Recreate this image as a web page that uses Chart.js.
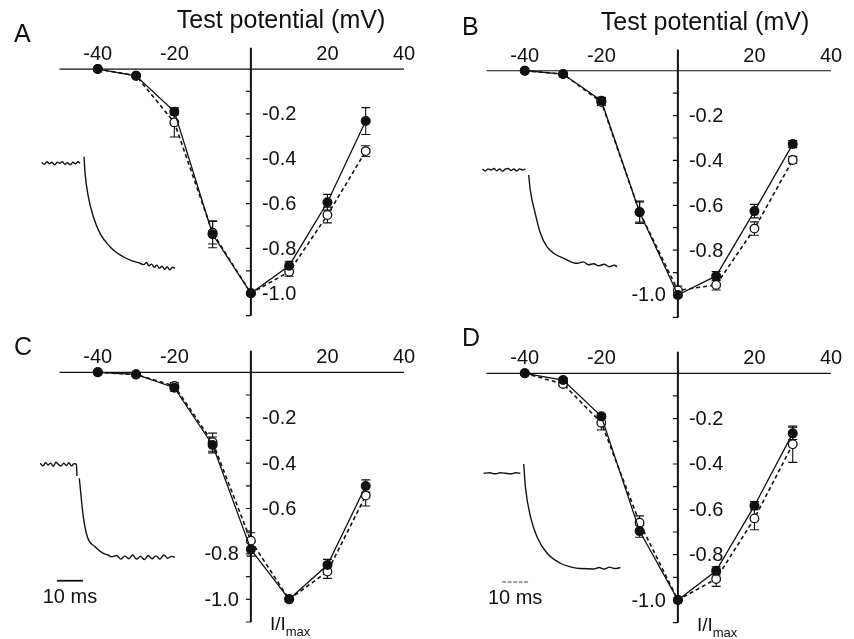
<!DOCTYPE html>
<html>
<head>
<meta charset="utf-8">
<script src="https://cdn.jsdelivr.net/npm/chart.js@4.4.1/dist/chart.umd.min.js"></script>
<style>
html, body { margin: 0; padding: 0; background: #fff; overflow: hidden; }
#fig { position: relative; width: 854px; height: 639px; }
.panel { position: absolute; width: 427px; height: 320px; }
</style>
</head>
<body>
<div id="fig">
  <div class="panel" style="left:0;top:0"><canvas id="panelA" width="427" height="320"></canvas></div>
  <div class="panel" style="left:427px;top:0"><canvas id="panelB" width="427" height="320"></canvas></div>
  <div class="panel" style="left:0;top:320px"><canvas id="panelC" width="427" height="320"></canvas></div>
  <div class="panel" style="left:427px;top:320px"><canvas id="panelD" width="427" height="320"></canvas></div>
</div>
<script>
// test potentials (mV) and axis labels
const voltages = [-40, -30, -20, -10, 0, 10, 20, 30];
const xTickLabels = [-40, -20, 20, 40];
const yTickLabels = [-0.2, -0.4, -0.6, -0.8, -1.0];
const yMinorTicks = [-0.1, -0.2, -0.3, -0.4, -0.5, -0.6, -0.7, -0.8, -0.9, -1.0, -1.1];

// panel A - I/Imax, filled and open symbols, with SEM
const aFilled = [0, -0.03, -0.19, -0.737, -1.0, -0.877, -0.594, -0.232];
const aOpen = [0, -0.03, -0.238, -0.73, -1.0, -0.904, -0.651, -0.366];
const aFilledErr = [0, 0, 0.015, 0.06, 0, 0.02, 0.035, 0.06];
const aOpenErr = [0, 0, 0.065, 0.05, 0, 0.02, 0.035, 0.024];
// inset current trace: time in ms from the pulse, current relative to the plateau
const aTraceT = [-16.3, -15.3, -14.3, -13.3, -12.3, -11.3, -10.3, -9.3, -8.3, -7.3, -6.3, -5.3, -4.3, -3.3, -2.3, -1.5, -0.8,
    0, 0.4, 1.65, 3.6, 6.15, 10, 12.5, 15.1, 18, 21.5, 23, 24, 25, 26, 27, 28, 29, 30, 31, 32, 33, 34, 35];
const aTraceI = [0.01, -0.01, 0.015, -0.005, 0.01, -0.015, 0.01, 0, 0.015, -0.01, 0.005, -0.015, 0.01, -0.005, 0.015, 0, null,
    0.063, -0.092, -0.318, -0.509, -0.667, -0.794, -0.85, -0.89, -0.925, -0.952, -0.965, -0.945, -0.975, -0.96, -0.99, -0.97, -1.0, -0.98, -1.01, -0.985, -1.015, -0.99, -1.0];

// panel B
const bFilled = [0, -0.015, -0.134, -0.631, -1.0, -0.915, -0.626, -0.327];
const bOpen = [0, -0.015, -0.14, -0.63, -0.98, -0.955, -0.704, -0.398];
const bFilledErr = [0, 0, 0.015, 0.05, 0.01, 0.02, 0.03, 0.016];
const bOpenErr = [0, 0, 0.015, 0.045, 0.02, 0.023, 0.03, 0.016];
const bTraceT = [-17.8, -16.7, -15.6, -14.5, -13.4, -12.3, -11.2, -10.1, -9, -7.9, -6.8, -5.7, -4.6, -3.5, -2.4, -1.3, -0.6,
    0, 0.6, 2.5, 4.5, 7.0, 9.6, 13.5, 18.6, 21, 23, 25, 27, 29, 31, 33, 34];
const bTraceI = [0.01, -0.01, 0.012, 0, 0.015, -0.008, 0.01, -0.012, 0.008, 0.015, -0.005, 0.01, -0.01, 0.012, 0, 0.01, null,
    -0.052, -0.207, -0.448, -0.655, -0.793, -0.861, -0.913, -0.965, -0.95, -0.98, -0.97, -0.99, -0.975, -1.0, -0.985, -1.0];

// panel C
const cFilled = [0, -0.009, -0.068, -0.32, -0.78, -1.0, -0.849, -0.501];
const cOpen = [0, -0.01, -0.06, -0.308, -0.742, -1.0, -0.878, -0.543];
const cFilledErr = [0, 0, 0.015, 0.035, 0.03, 0, 0.025, 0.027];
const cOpenErr = [0, 0, 0.015, 0.04, 0.035, 0, 0.03, 0.046];
const cTraceT = [-15, -14, -13, -12, -11, -10, -9, -8, -7, -6, -5, -4, -3, -2, -1.1, -0.9, -0.5,
    0, 1.54, 3.08, 6.04, 9.23, 11, 12.5, 14.4, 16, 17.5, 19, 20.5, 22, 23.5, 25, 26.5, 28, 29.5, 31, 32.5, 34, 35.5, 36.8];
const cTraceI = [0.02, -0.01, 0.025, 0, 0.02, -0.015, 0.03, 0.005, -0.01, 0.02, -0.005, 0.025, -0.01, 0.015, 0.01, -0.12, null,
    -0.144, -0.56, -0.777, -0.885, -0.957, -0.975, -0.995, -0.98, -1.02, -0.985, -1.015, -0.975, -1.02, -0.99, -1.025, -0.98, -1.015, -0.985, -1.02, -0.975, -1.01, -0.99, -1.0];

// panel D
const dFilled = [0, -0.03, -0.19, -0.696, -1.0, -0.871, -0.584, -0.265];
const dOpen = [0, -0.047, -0.218, -0.659, -1.0, -0.907, -0.64, -0.313];
const dFilledErr = [0, 0.01, 0.01, 0.027, 0, 0.018, 0.018, 0.027];
const dOpenErr = [0, 0.01, 0.032, 0.03, 0, 0.033, 0.05, 0.08];
const dTraceT = [-15.4, -13, -11, -9, -7, -5, -3, -1.3, -0.7,
    0, 0.65, 2.6, 5.1, 9.0, 14.1, 19.2, 22, 26.9, 29, 31, 33, 35, 37.2];
const dTraceI = [0, 0.005, -0.005, 0.005, 0, -0.005, 0.005, 0, null,
    0.097, -0.14, -0.453, -0.662, -0.836, -0.94, -0.986, -0.995, -1.0, -0.985, -1.0, -0.98, -0.995, -0.985];

const FONT = "'Liberation Sans', Arial, Helvetica, sans-serif";
const INK = '#111';
const MS_PX = 2.6;          // inset: pixels per ms (10 ms bar = 26 px)
const W = 427, H = 320;     // panel canvas size
const AX_LEFT = 59.5, AX_RIGHT = 404;   // pixel span of -50..40 mV

const panelDefs = [
    { canvas: 'panelA', letter: 'A', letterAt: [14, 42], titleAt: [281, 28],
      filled: aFilled, open: aOpen, filledErr: aFilledErr, openErr: aOpenErr,
      traceT: aTraceT, traceI: aTraceI, top: 46.6, bottom: 315.7,
      inset: { x0: 84, y0: 163.3, unitPx: 105 }, leftLabels: [], imax: false, bar: null },
    { canvas: 'panelB', letter: 'B', letterAt: [35, 35], titleAt: [278, 30],
      filled: bFilled, open: bOpen, filledErr: bFilledErr, openErr: bOpenErr,
      traceT: bTraceT, traceI: bTraceI, top: 48.3, bottom: 317.4,
      inset: { x0: 101.7, y0: 170, unitPx: 96.7 }, leftLabels: [-1.0], imax: false, bar: null },
    { canvas: 'panelC', letter: 'C', letterAt: [14, 35], titleAt: null,
      filled: cFilled, open: cOpen, filledErr: cFilledErr, openErr: cOpenErr,
      traceT: cTraceT, traceI: cTraceI, top: 29.6, bottom: 302,
      inset: { x0: 79.3, y0: 145, unitPx: 92.3 }, leftLabels: [-0.8, -1.0], imax: true,
      bar: { t: -8.6, i: -1.254, dashed: false } },
    { canvas: 'panelD', letter: 'D', letterAt: [35, 26], titleAt: null,
      filled: dFilled, open: dOpen, filledErr: dFilledErr, openErr: dOpenErr,
      traceT: dTraceT, traceI: dTraceI, top: 30.6, bottom: 302.7,
      inset: { x0: 96.7, y0: 153.3, unitPx: 95.7 }, leftLabels: [-1.0], imax: true,
      bar: { t: -8.3, i: -1.136, dashed: true } }
];

const figurePlugin = {
    id: 'figure',
    beforeDatasetsDraw(chart, args, opts) {
        const ctx = chart.ctx;
        const x = chart.scales.x, y = chart.scales.y;
        const x0 = x.getPixelForValue(0), y0 = y.getPixelForValue(0);
        ctx.save();
        ctx.strokeStyle = INK;
        // horizontal (voltage) axis
        ctx.lineWidth = 1.2;
        ctx.beginPath();
        ctx.moveTo(x.getPixelForValue(-50), y0);
        ctx.lineTo(x.getPixelForValue(40), y0);
        ctx.stroke();
        // vertical (I/Imax) axis
        ctx.lineWidth = 2;
        ctx.beginPath();
        ctx.moveTo(x0, y.getPixelForValue(0.095));
        ctx.lineTo(x0, y.getPixelForValue(-1.1));
        ctx.stroke();
        // minor ticks on the left of the vertical axis
        ctx.lineWidth = 1.2;
        ctx.beginPath();
        yMinorTicks.forEach(v => {
            const p = y.getPixelForValue(v);
            ctx.moveTo(x0 - 5, p);
            ctx.lineTo(x0, p);
        });
        ctx.stroke();

        // error bars
        ctx.lineWidth = 1.1;
        [opts.filledErr, opts.openErr].forEach((errs, di) => {
            const vals = chart.data.datasets[di].data;
            ctx.beginPath();
            errs.forEach((e, i) => {
                if (!e) return;
                const px = x.getPixelForValue(vals[i].x);
                const pHi = y.getPixelForValue(vals[i].y + e);
                const pLo = y.getPixelForValue(vals[i].y - e);
                ctx.moveTo(px, pHi); ctx.lineTo(px, pLo);
                ctx.moveTo(px - 4.5, pHi); ctx.lineTo(px + 4.5, pHi);
                ctx.moveTo(px - 4.5, pLo); ctx.lineTo(px + 4.5, pLo);
            });
            ctx.stroke();
        });

        // 10 ms scale bar under the inset trace
        if (opts.bar) {
            const tx = chart.scales.tx, ty = chart.scales.ty;
            const bx1 = tx.getPixelForValue(opts.bar.t);
            const bx2 = tx.getPixelForValue(opts.bar.t + 10);
            const by = ty.getPixelForValue(opts.bar.i);
            ctx.lineWidth = opts.bar.dashed ? 1.2 : 1.8;
            ctx.strokeStyle = opts.bar.dashed ? '#444' : INK;
            if (opts.bar.dashed) ctx.setLineDash([4, 1.5]);
            ctx.beginPath();
            ctx.moveTo(bx1, by); ctx.lineTo(bx2, by);
            ctx.stroke();
            ctx.setLineDash([]);
            ctx.fillStyle = INK;
            ctx.font = '20px ' + FONT;
            ctx.textAlign = 'center';
            ctx.textBaseline = 'alphabetic';
            ctx.fillText('10 ms', (bx1 + bx2) / 2, by + 22);
        }
        ctx.restore();
    },
    afterDraw(chart, args, opts) {
        const ctx = chart.ctx;
        const x = chart.scales.x, y = chart.scales.y;
        const x0 = x.getPixelForValue(0), y0 = y.getPixelForValue(0);
        ctx.save();
        ctx.fillStyle = INK;
        ctx.font = '20px ' + FONT;
        // voltage tick labels above the axis
        ctx.textAlign = 'center';
        ctx.textBaseline = 'alphabetic';
        xTickLabels.forEach(v => ctx.fillText(String(v), x.getPixelForValue(v), y0 - 9));
        // current tick labels beside the vertical axis
        ctx.textBaseline = 'middle';
        yTickLabels.forEach(v => {
            const left = opts.leftLabels.includes(v);
            ctx.textAlign = left ? 'right' : 'left';
            ctx.fillText(v.toFixed(1), left ? x0 - 12 : x0 + 11, y.getPixelForValue(v) + 1);
        });
        // panel letter and title
        ctx.textBaseline = 'alphabetic';
        ctx.textAlign = 'left';
        ctx.font = '25px ' + FONT;
        ctx.fillText(opts.letter, opts.letterAt[0], opts.letterAt[1]);
        if (opts.titleAt) {
            ctx.textAlign = 'center';
            ctx.fillText('Test potential (mV)', opts.titleAt[0], opts.titleAt[1]);
        }
        if (opts.imax) {
            ctx.textAlign = 'left';
            ctx.font = '19px ' + FONT;
            const lx = x0 + 19, ly = y.getPixelForValue(-1.1) + 8;
            ctx.fillText('I/I', lx, ly);
            const w = ctx.measureText('I/I').width;
            ctx.font = '13px ' + FONT;
            ctx.fillText('max', lx + w, ly + 6);
        }
        ctx.restore();
    }
};

panelDefs.forEach(p => {
    // scale ranges chosen so that the whole canvas is the chart area
    const mvPx = (AX_RIGHT - AX_LEFT) / 90;
    const iPx = (p.bottom - p.top) / 1.2;
    const ins = p.inset;

    new Chart(document.getElementById(p.canvas), {
        type: 'line',
        data: {
            datasets: [
                {
                    label: 'filled',
                    data: voltages.map((v, i) => ({ x: v, y: p.filled[i] })),
                    xAxisID: 'x', yAxisID: 'y',
                    borderColor: INK, borderWidth: 1.3,
                    pointRadius: 5, pointBackgroundColor: INK, pointBorderWidth: 0,
                    tension: 0
                },
                {
                    label: 'open',
                    data: voltages.map((v, i) => ({ x: v, y: p.open[i] })),
                    xAxisID: 'x', yAxisID: 'y',
                    borderColor: INK, borderWidth: 1.6, borderDash: [4, 3],
                    pointRadius: 4.3, pointBackgroundColor: '#fff', pointBorderColor: INK, pointBorderWidth: 1.3,
                    tension: 0
                },
                {
                    label: 'trace',
                    data: p.traceT.map((t, i) => ({ x: t, y: p.traceI[i] })),
                    xAxisID: 'tx', yAxisID: 'ty',
                    borderColor: INK, borderWidth: 1.4,
                    pointRadius: 0, cubicInterpolationMode: 'monotone',
                    spanGaps: false
                }
            ]
        },
        options: {
            responsive: false,
            animation: false,
            devicePixelRatio: 1,
            layout: { padding: 0, autoPadding: false },
            scales: {
                x: { type: 'linear', display: false, bounds: 'data',
                     min: -50 - AX_LEFT / mvPx, max: 40 + (W - AX_RIGHT) / mvPx },
                y: { type: 'linear', display: false, bounds: 'data',
                     min: -1.1 - (H - p.bottom) / iPx, max: 0.1 + p.top / iPx },
                tx: { type: 'linear', axis: 'x', display: false, bounds: 'data',
                      min: -ins.x0 / MS_PX, max: (W - ins.x0) / MS_PX },
                ty: { type: 'linear', axis: 'y', display: false, bounds: 'data',
                      min: -(H - ins.y0) / ins.unitPx, max: ins.y0 / ins.unitPx }
            },
            plugins: {
                legend: { display: false },
                tooltip: { enabled: false },
                figure: {
                    letter: p.letter, letterAt: p.letterAt, titleAt: p.titleAt,
                    filledErr: p.filledErr, openErr: p.openErr,
                    leftLabels: p.leftLabels, imax: p.imax, bar: p.bar
                }
            }
        },
        plugins: [figurePlugin]
    });
});
</script>
</body>
</html>
